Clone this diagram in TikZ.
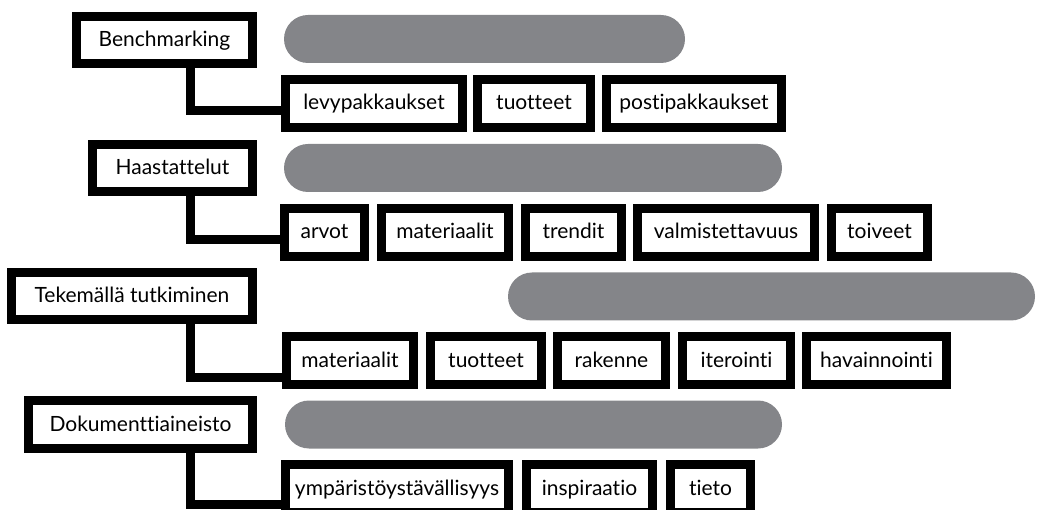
\documentclass[tikz,border=0pt]{standalone}
\usepackage{fontspec}
\setmainfont[Ligatures=NoCommon]{Lato}
\definecolor{bargrey}{RGB}{132,133,137}
\begin{document}
\begin{tikzpicture}[x=1pt,y=-1pt,
  box/.style={draw=black, line width=9pt, fill=white, rectangle, inner sep=0pt,
    minimum height=47.5pt, text height=18pt, text depth=5pt,
    font=\fontsize{21}{25}\selectfont, text=black},
  bar/.style={fill=bargrey, draw=none, rectangle, rounded corners=24pt, inner sep=0pt, minimum height=48pt},
  conn/.style={draw=black, line width=9pt, line join=miter}]
\useasboundingbox (0,0) rectangle (1038,510);
% grey bars
\node[bar, minimum width=401pt] (bar1) at (484.5,39) {};
\node[bar, minimum width=498pt] (bar2) at (533,168) {};
\node[bar, minimum width=527pt] (bar3) at (771.5,296.5) {};
\node[bar, minimum width=497pt] (bar4) at (533.5,424.5) {};
% connector corners
\coordinate (k1) at (190,111);
\coordinate (k2) at (190,240);
\coordinate (k3) at (190,377);
\coordinate (k4) at (190,504);
% row 1
\node[box, minimum width=176pt] (bench) at (164.5,40) {Benchmarking};
\node[box, minimum width=177pt] (levy) at (374,103.5) {levypakkaukset};
\node[box, minimum width=113pt] (tuot1) at (534,103.5) {tuotteet};
\node[box, minimum width=175pt] (posti) at (694,103.5) {postipakkaukset};
% row 2
\node[box, minimum width=160pt] (haas) at (172.5,168) {Haastattelut};
\node[box, minimum width=80pt] (arvot) at (324.5,232.5) {arvot};
\node[box, minimum width=127pt] (mat2) at (445,232.5) {materiaalit};
\node[box, minimum width=96pt] (trend) at (573.5,232.5) {trendit};
\node[box, minimum width=177pt] (valm) at (726,232.5) {valmistettavuus};
\node[box, minimum width=96pt] (toiv) at (879.5,232.5) {toiveet};
% row 3
\node[box, minimum width=241pt] (tek) at (132,296) {Tekemällä tutkiminen};
\node[box, minimum width=127pt] (mat3) at (350,360.5) {materiaalit};
\node[box, minimum width=111pt] (tuot3) at (486,360.5) {tuotteet};
\node[box, minimum width=108pt] (rak) at (611.5,360.5) {rakenne};
\node[box, minimum width=108pt] (iter) at (736.5,360.5) {iterointi};
\node[box, minimum width=140pt] (hav) at (876.5,360.5) {havainnointi};
% row 4
\node[box, minimum width=224pt] (dok) at (140.5,424.5) {Dokumenttiaineisto};
\node[box, minimum width=223pt] (ymp) at (397,488.5) {ympäristöystävällisyys};
\node[box, minimum width=126pt] (insp) at (589.5,488.5) {inspiraatio};
\node[box, minimum width=80pt] (tieto) at (710.5,488.5) {tieto};
% connectors
\draw[conn] (k1 |- bench.south) |- (k1 -| levy.west);
\draw[conn] (k2 |- haas.south) |- (k2 -| arvot.west);
\draw[conn] (k3 |- tek.south) |- (k3 -| mat3.west);
\draw[conn] (k4 |- dok.south) |- (k4 -| ymp.west);
\end{tikzpicture}
\end{document}
